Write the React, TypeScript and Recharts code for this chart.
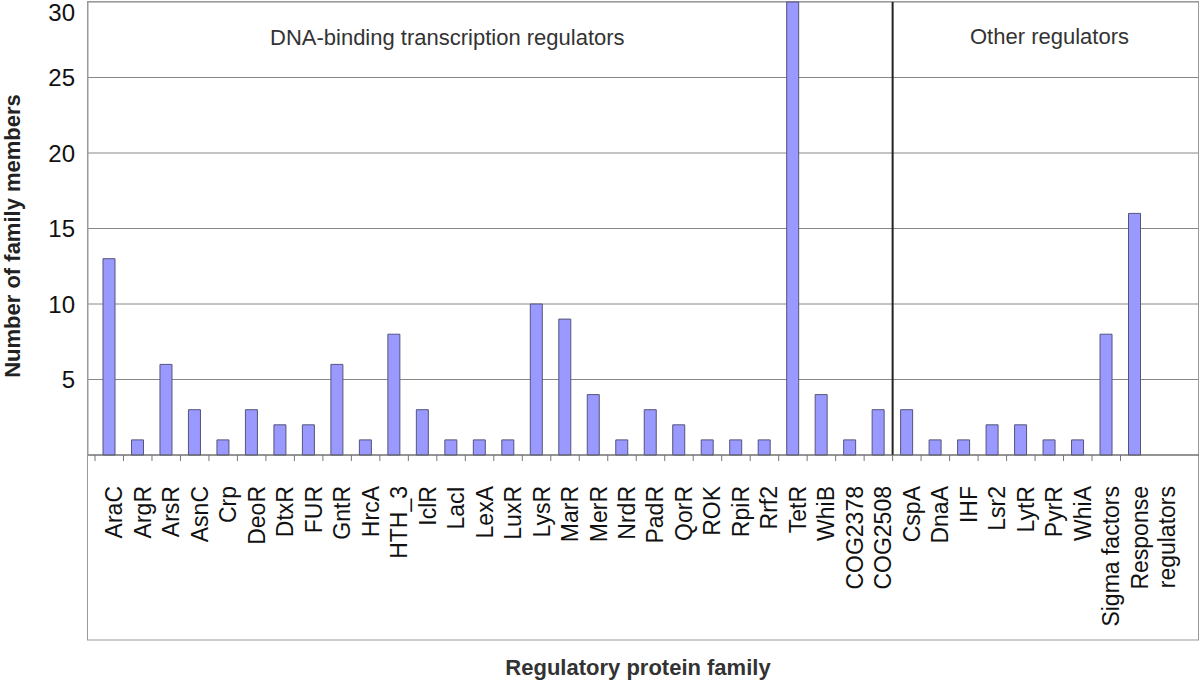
import * as React from "react";
import {
    BarChart,
    Bar,
    XAxis,
    YAxis,
    CartesianGrid,
    ReferenceLine,
} from "recharts";

const families = [
    "AraC", "ArgR", "ArsR", "AsnC", "Crp", "DeoR", "DtxR", "FUR", "GntR", "HrcA",
    "HTH_3", "IclR", "LacI", "LexA", "LuxR", "LysR", "MarR", "MerR", "NrdR", "PadR",
    "QorR", "ROK", "RpiR", "Rrf2", "TetR", "WhiB", "COG2378", "COG2508",
    "CspA", "DnaA", "IHF", "Lsr2", "LytR", "PyrR", "WhiA", "Sigma factors", "Response regulators",
];

const members = [
    13, 1, 6, 3, 1, 3, 2, 2, 6, 1,
    8, 3, 1, 1, 1, 10, 9, 4, 1, 3,
    2, 1, 1, 1, 30, 4, 1, 3,
    3, 1, 1, 2, 2, 1, 1, 8, 16,
];

const yTicks = [5, 10, 15, 20, 25, 30];

// first family of the "Other regulators" group
const firstOther = "CspA";

// labels that Excel wrapped onto two lines
const wrapped: Record<string, string[]> = {
    "Response regulators": ["Response", "regulators"],
};

const FONT = "'Liberation Sans', Arial, sans-serif";

const data = families.map((name, i) => ({ name, value: members[i] }));

function FamilyTick(props: any) {
    const { x, y, payload } = props;
    const half = payload.offset ?? 14;
    const lines = wrapped[payload.value] ?? [payload.value];
    return (
        <g>
            <line x1={x - half} x2={x - half} y1={y} y2={y + 6} stroke="#777" />
            <text
                transform={`translate(${x},${y + 31}) rotate(-90)`}
                textAnchor="end"
                fontSize={23}
                fontFamily={FONT}
                fill="#111"
            >
                {lines.map((line: string, i: number) => (
                    <tspan key={line} x={0} dy={i === 0 ? 13 : 27}>
                        {line}
                    </tspan>
                ))}
            </text>
        </g>
    );
}

function CountTick(props: any) {
    const { x, y, payload } = props;
    // the top label is pushed down so it stays inside the picture
    return (
        <text
            x={x}
            y={Math.max(y, 12)}
            dy="0.36em"
            textAnchor="end"
            fontSize={24}
            fontFamily={FONT}
            fill="#111"
        >
            {payload.value}
        </text>
    );
}

export default function App() {
    return (
        <div style={{ position: "absolute", left: 0, top: 0, background: "#fff" }}>
            <BarChart
                width={1200}
                height={681}
                data={data}
                margin={{ top: 2, right: 1, left: 0, bottom: 41 }}
                barSize={12}
            >
                <rect x={87.5} y={1.5} width={1111} height={638.5} fill="none" stroke="#999" />
                <CartesianGrid vertical={false} stroke="#888" />
                <XAxis
                    dataKey="name"
                    interval={0}
                    height={185}
                    padding={{ left: 7, right: 50 }}
                    tickSize={0}
                    tickMargin={0}
                    tickLine={false}
                    axisLine={{ stroke: "#666" }}
                    tick={<FamilyTick />}
                />
                <YAxis
                    domain={[0, 30]}
                    ticks={yTicks}
                    width={88}
                    tickSize={0}
                    tickMargin={13}
                    tickLine={false}
                    axisLine={{ stroke: "#999" }}
                    tick={<CountTick />}
                />
                <ReferenceLine x={firstOther} position="start" stroke="#222" strokeWidth={2} />
                <Bar
                    dataKey="value"
                    fill="#9999ff"
                    stroke="#55557a"
                    strokeWidth={1}
                    isAnimationActive={false}
                />
                <text x={270} y={45} fontSize={22} fontFamily={FONT} fill="#333">
                    DNA-binding transcription regulators
                </text>
                <text x={970} y={44} fontSize={22} fontFamily={FONT} fill="#333">
                    Other regulators
                </text>
                <text
                    transform="translate(20,236) rotate(-90)"
                    textAnchor="middle"
                    fontSize={22}
                    fontWeight="bold"
                    fontFamily={FONT}
                    fill="#222"
                >
                    Number of family members
                </text>
                <text
                    x={638}
                    y={675}
                    textAnchor="middle"
                    fontSize={22}
                    fontWeight="bold"
                    fontFamily={FONT}
                    fill="#333"
                >
                    Regulatory protein family
                </text>
            </BarChart>
        </div>
    );
}
